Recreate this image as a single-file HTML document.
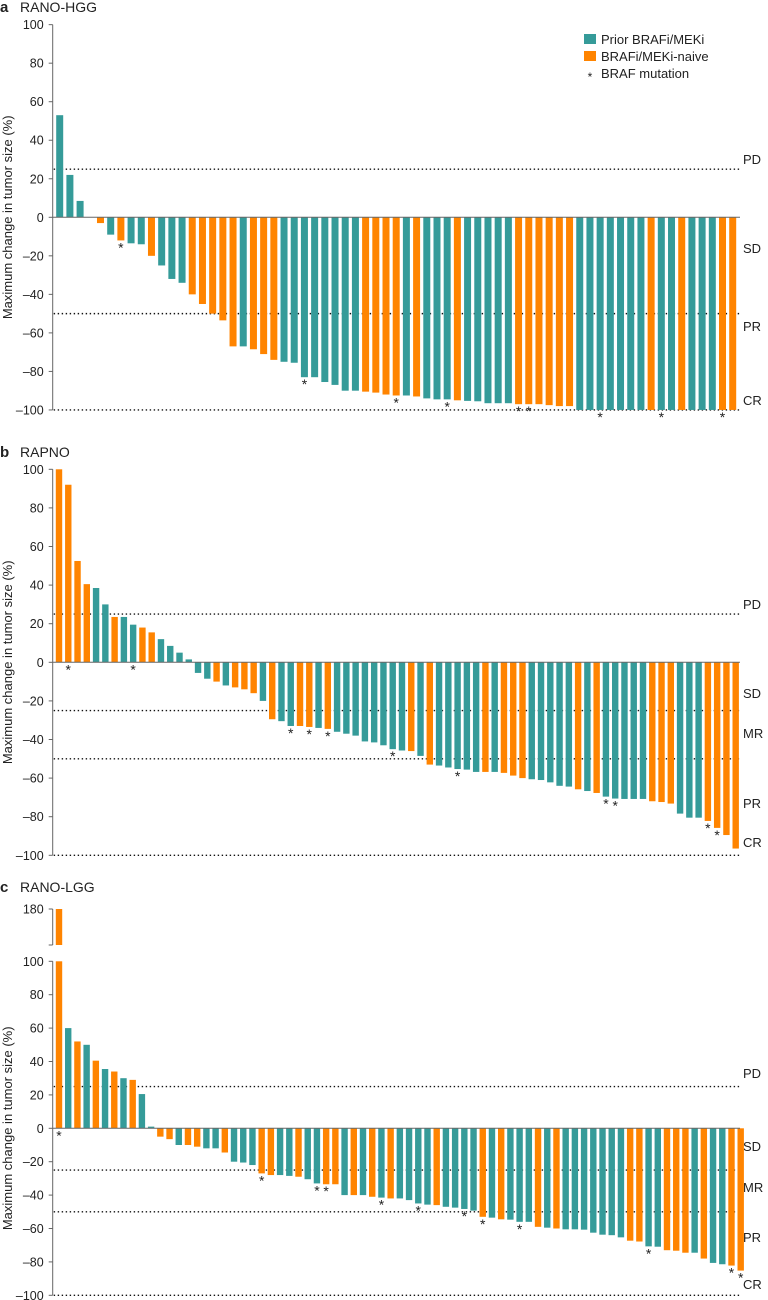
<!DOCTYPE html>
<html><head><meta charset="utf-8"><style>
html,body{margin:0;padding:0;background:#fff;}
svg{display:block;font-family:"Liberation Sans",Arial,sans-serif;}
</style></head><body>
<svg id="chart" width="768" height="1300" viewBox="0 0 768 1300" xmlns="http://www.w3.org/2000/svg"></svg>
<script>
// ---- Panel a: RANO-HGG ----
const aValues = [53,22,8.5,0,-3,-9,-12,-13.5,-14,-20,-25,-32,-34,-40,-45,-50,-53.5,-67,-67,-68.5,-71,-74,-75,-75.5,-83,-83,-85.5,-87,-90,-90,-90.5,-91,-92,-92.5,-92.5,-93,-94,-94.5,-94.5,-95,-95.3,-95.5,-96.5,-96.5,-96.5,-97,-97,-97,-97.5,-98,-98,-100,-100,-100,-100,-100,-100,-100,-100,-100,-100,-100,-100,-100,-100,-100,-100];
const aG = ["t","t","t","t","o","t","o","t","t","o","t","t","t","o","o","o","o","o","t","o","o","o","t","t","t","t","t","t","t","t","o","o","o","o","t","o","t","t","t","o","t","t","t","t","t","o","o","o","o","o","o","t","t","t","t","t","t","t","o","t","t","o","t","t","t","o","o"];
const aStars = [6,24,33,38,45,46,53,59,65];
// ---- Panel b: RAPNO ----
const bValues = [100,92,52.5,40.5,38.5,30,23.5,23.5,19.5,18,15.5,12,8.5,5,1.5,-5.5,-8.5,-10,-12,-13,-14,-16,-20,-29.5,-30.5,-33,-33,-33.5,-34,-34.5,-36,-37,-38,-41,-41.5,-43,-45,-45.7,-46,-48.5,-53,-53.5,-54.5,-55.3,-55.6,-56.8,-56.8,-56.8,-57.3,-58.7,-60,-60.6,-61,-62.2,-64,-64.4,-65.8,-66.7,-67.7,-69.6,-70.6,-70.8,-70.8,-70.8,-72,-72.4,-73.2,-78.4,-80.5,-80.5,-82.2,-85.8,-89.5,-96.5];
const bG = ["o","o","o","o","t","t","o","t","t","o","o","t","t","t","t","t","t","o","t","o","o","o","t","o","t","t","o","o","t","o","t","t","t","t","t","t","t","t","o","t","o","t","t","t","t","t","o","t","o","o","o","t","t","t","t","t","o","t","o","t","t","t","t","t","o","o","o","t","t","t","o","o","o","o"];
const bStars = [1,8,25,27,29,36,43,59,60,70,71];
// ---- Panel c: RANO-LGG ----
const cValues = [180,60,52,50,40.5,35.5,34,30,29,20.5,1,-5,-6.5,-10,-10,-11,-12,-12,-14.5,-20,-20.5,-22,-27,-28,-28,-28.5,-29,-30.5,-33,-33.5,-33.5,-40,-40,-40,-41,-41.5,-42,-42,-43,-45,-45.7,-46,-47,-47.5,-48.3,-49.3,-53,-53.5,-54.5,-54.7,-56,-56,-59,-59.5,-60,-60.5,-60.5,-60.7,-62.5,-63.7,-64,-65.3,-67.3,-67.8,-70.7,-70.9,-73,-73.3,-74.5,-74.5,-78,-80.6,-81.4,-82.2,-85.2];
const cG = ["o","t","o","t","o","t","o","t","o","t","t","o","o","t","o","o","t","t","o","t","t","t","o","o","t","t","o","t","t","o","o","t","o","t","o","t","o","t","t","t","t","o","t","t","t","t","o","t","o","t","t","t","o","t","o","t","t","t","t","t","t","t","o","o","t","t","o","o","o","t","o","t","t","o","o"];
const cStars = [0,22,28,29,35,39,44,46,50,64,73,74];
const yTicks = [100,80,60,40,20,0,-20,-40,-60,-80,-100];

const TEAL = "#359b99", ORANGE = "#ff8400";
const svg = document.getElementById('chart');
const NS = "http://www.w3.org/2000/svg";
function mk(tag, attrs, parent) {
  const e = document.createElementNS(NS, tag);
  for (const k in attrs) e.setAttribute(k, attrs[k]);
  (parent || svg).appendChild(e);
  return e;
}
function txt(s, x, y, size, anchor, parent, weight) {
  const t = mk('text', {x: x, y: y, 'font-size': size, 'text-anchor': anchor || 'start', fill: '#222', 'font-weight': weight || 'normal'}, parent);
  t.textContent = s;
  return t;
}

function panel(cfg) {
  const g = mk('g', {});
  
  
  const y = v => cfg.zeroY - v * cfg.scale;
  const axisX = 52.7, right = 740;
  const L = txt(cfg.letter, 0, cfg.titleY, 15, 'start', g, 'bold');
  
  
  const T = txt(cfg.title, 20, cfg.titleY, 14, 'start', g);
  
  
  const ax = mk('line', {x1: axisX, x2: axisX, y1: y(100), y2: y(-100), stroke: '#666', 'stroke-width': 1}, g);
  
  
  yTicks.forEach(t => {
    mk('line', {x1: axisX - 4, x2: axisX, y1: y(t), y2: y(t), stroke: '#666', 'stroke-width': 1}, g);
    const tl = txt(String(t).replace('-', '\u2013'), axisX - 9, y(t) + 4.5, 12.5, 'end', g);
    
    
  });
  const midY = (y(100) + y(-100)) / 2 + (cfg.labelShift || 0);
  const yl = txt('Maximum change in tumor size (%)', 0, 0, 13, 'middle', g);
  yl.setAttribute('transform', 'translate(12,' + midY + ') rotate(-90)');
  
  
  cfg.thresholds.forEach(th => {
    const l = mk('line', {x1: axisX + 1, x2: right, y1: y(th), y2: y(th), stroke: '#111', 'stroke-width': 1.4, 'stroke-dasharray': '1.4 2.6'}, g);
    
    
  });
  cfg.labels.forEach(lb => {
    const t = txt(lb[0], 743, lb[1], 13, 'start', g);
    
    
  });
  const n = cfg.values.length;
  const pitch = (cfg.lastX - cfg.firstX) / (n - 1);
  const bw = cfg.barW;
  cfg.values.forEach((v, i) => {
    const cx = cfg.firstX + i * pitch;
    const col = cfg.groups[i] === 'o' ? ORANGE : TEAL;
    if (cfg.broken && v > 100) {
      const b1 = mk('rect', {x: cx - bw / 2, y: y(0) - 100 * cfg.scale, width: bw, height: 100 * cfg.scale, fill: col}, g);
      
      
      const topY = cfg.broken.y180 - (v - 180) * cfg.scale;
      const b2 = mk('rect', {x: cx - bw / 2, y: topY, width: bw, height: cfg.broken.bottom - topY, fill: col}, g);
      
      
    } else {
      const y0 = Math.min(y(0), y(v)), h = Math.max(Math.abs(y(v) - y(0)), 0.01);
      const r = mk('rect', {x: cx - bw / 2, y: y0, width: bw, height: h, fill: col}, g);
      
      
    }
    if (cfg.stars.indexOf(i) >= 0) {
      const sy = (v > 0 ? y(0) : y(v)) + 12;
      const s = txt('*', cx, sy, 14, 'middle', g);
      
      
    }
  });
  const z = mk('line', {x1: axisX, x2: right, y1: y(0), y2: y(0), stroke: '#666', 'stroke-width': 1}, g);
  
  
  if (cfg.broken) {
    mk('line', {x1: axisX, x2: axisX, y1: cfg.broken.y180, y2: cfg.broken.bottom, stroke: '#666', 'stroke-width': 1}, g);
    mk('line', {x1: axisX - 4, x2: axisX, y1: cfg.broken.y180, y2: cfg.broken.y180, stroke: '#666'}, g);
    mk('line', {x1: axisX - 4, x2: axisX, y1: cfg.broken.bottom, y2: cfg.broken.bottom, stroke: '#666'}, g);
    const t = txt('180', axisX - 9, cfg.broken.y180 + 4.5, 12.5, 'end', g);
    
    
  }
}

panel({name: 'panel-a-rano-hgg', letter: 'a', title: 'RANO-HGG', titleY: 12, zeroY: 217.3, scale: 1.9265,
  values: aValues, groups: aG, stars: aStars, firstX: 59.7, lastX: 732.7, barW: 7,
  thresholds: [25, -50, -100], labels: [['PD', 164], ['SD', 253], ['PR', 331], ['CR', 405]]});
panel({name: 'panel-b-rapno', letter: 'b', title: 'RAPNO', titleY: 457, zeroY: 662.3, scale: 1.93,
  values: bValues, groups: bG, stars: bStars, firstX: 59, lastX: 735.7, barW: 6.4,
  thresholds: [25, -25, -50, -100], labels: [['PD', 609], ['SD', 698], ['MR', 738], ['PR', 808], ['CR', 847]]});
panel({name: 'panel-c-rano-lgg', letter: 'c', title: 'RANO-LGG', titleY: 892, zeroY: 1128.3, scale: 1.67,
  values: cValues, groups: cG, stars: cStars, firstX: 59, lastX: 740.7, barW: 6.4,
  broken: {y180: 909, bottom: 945},
  thresholds: [25, -25, -50, -100], labels: [['PD', 1078], ['SD', 1151], ['MR', 1192], ['PR', 1242], ['CR', 1289]]});

const lg = mk('g', {});


const leg = [['Prior BRAFi/MEKi', TEAL], ['BRAFi/MEKi-naive', ORANGE]];
leg.forEach((e, i) => {
  const yy = 34 + i * 17;
  const r = mk('rect', {x: 584, y: yy, width: 12, height: 10, fill: e[1]}, lg);
  
  
  const t = txt(e[0], 601, yy + 10, 13, 'start', lg);
  
  
});
const st = txt('*', 590, 81, 12, 'middle', lg);


const st2 = txt('BRAF mutation', 601, 78, 13, 'start', lg);


</script>
</body></html>
